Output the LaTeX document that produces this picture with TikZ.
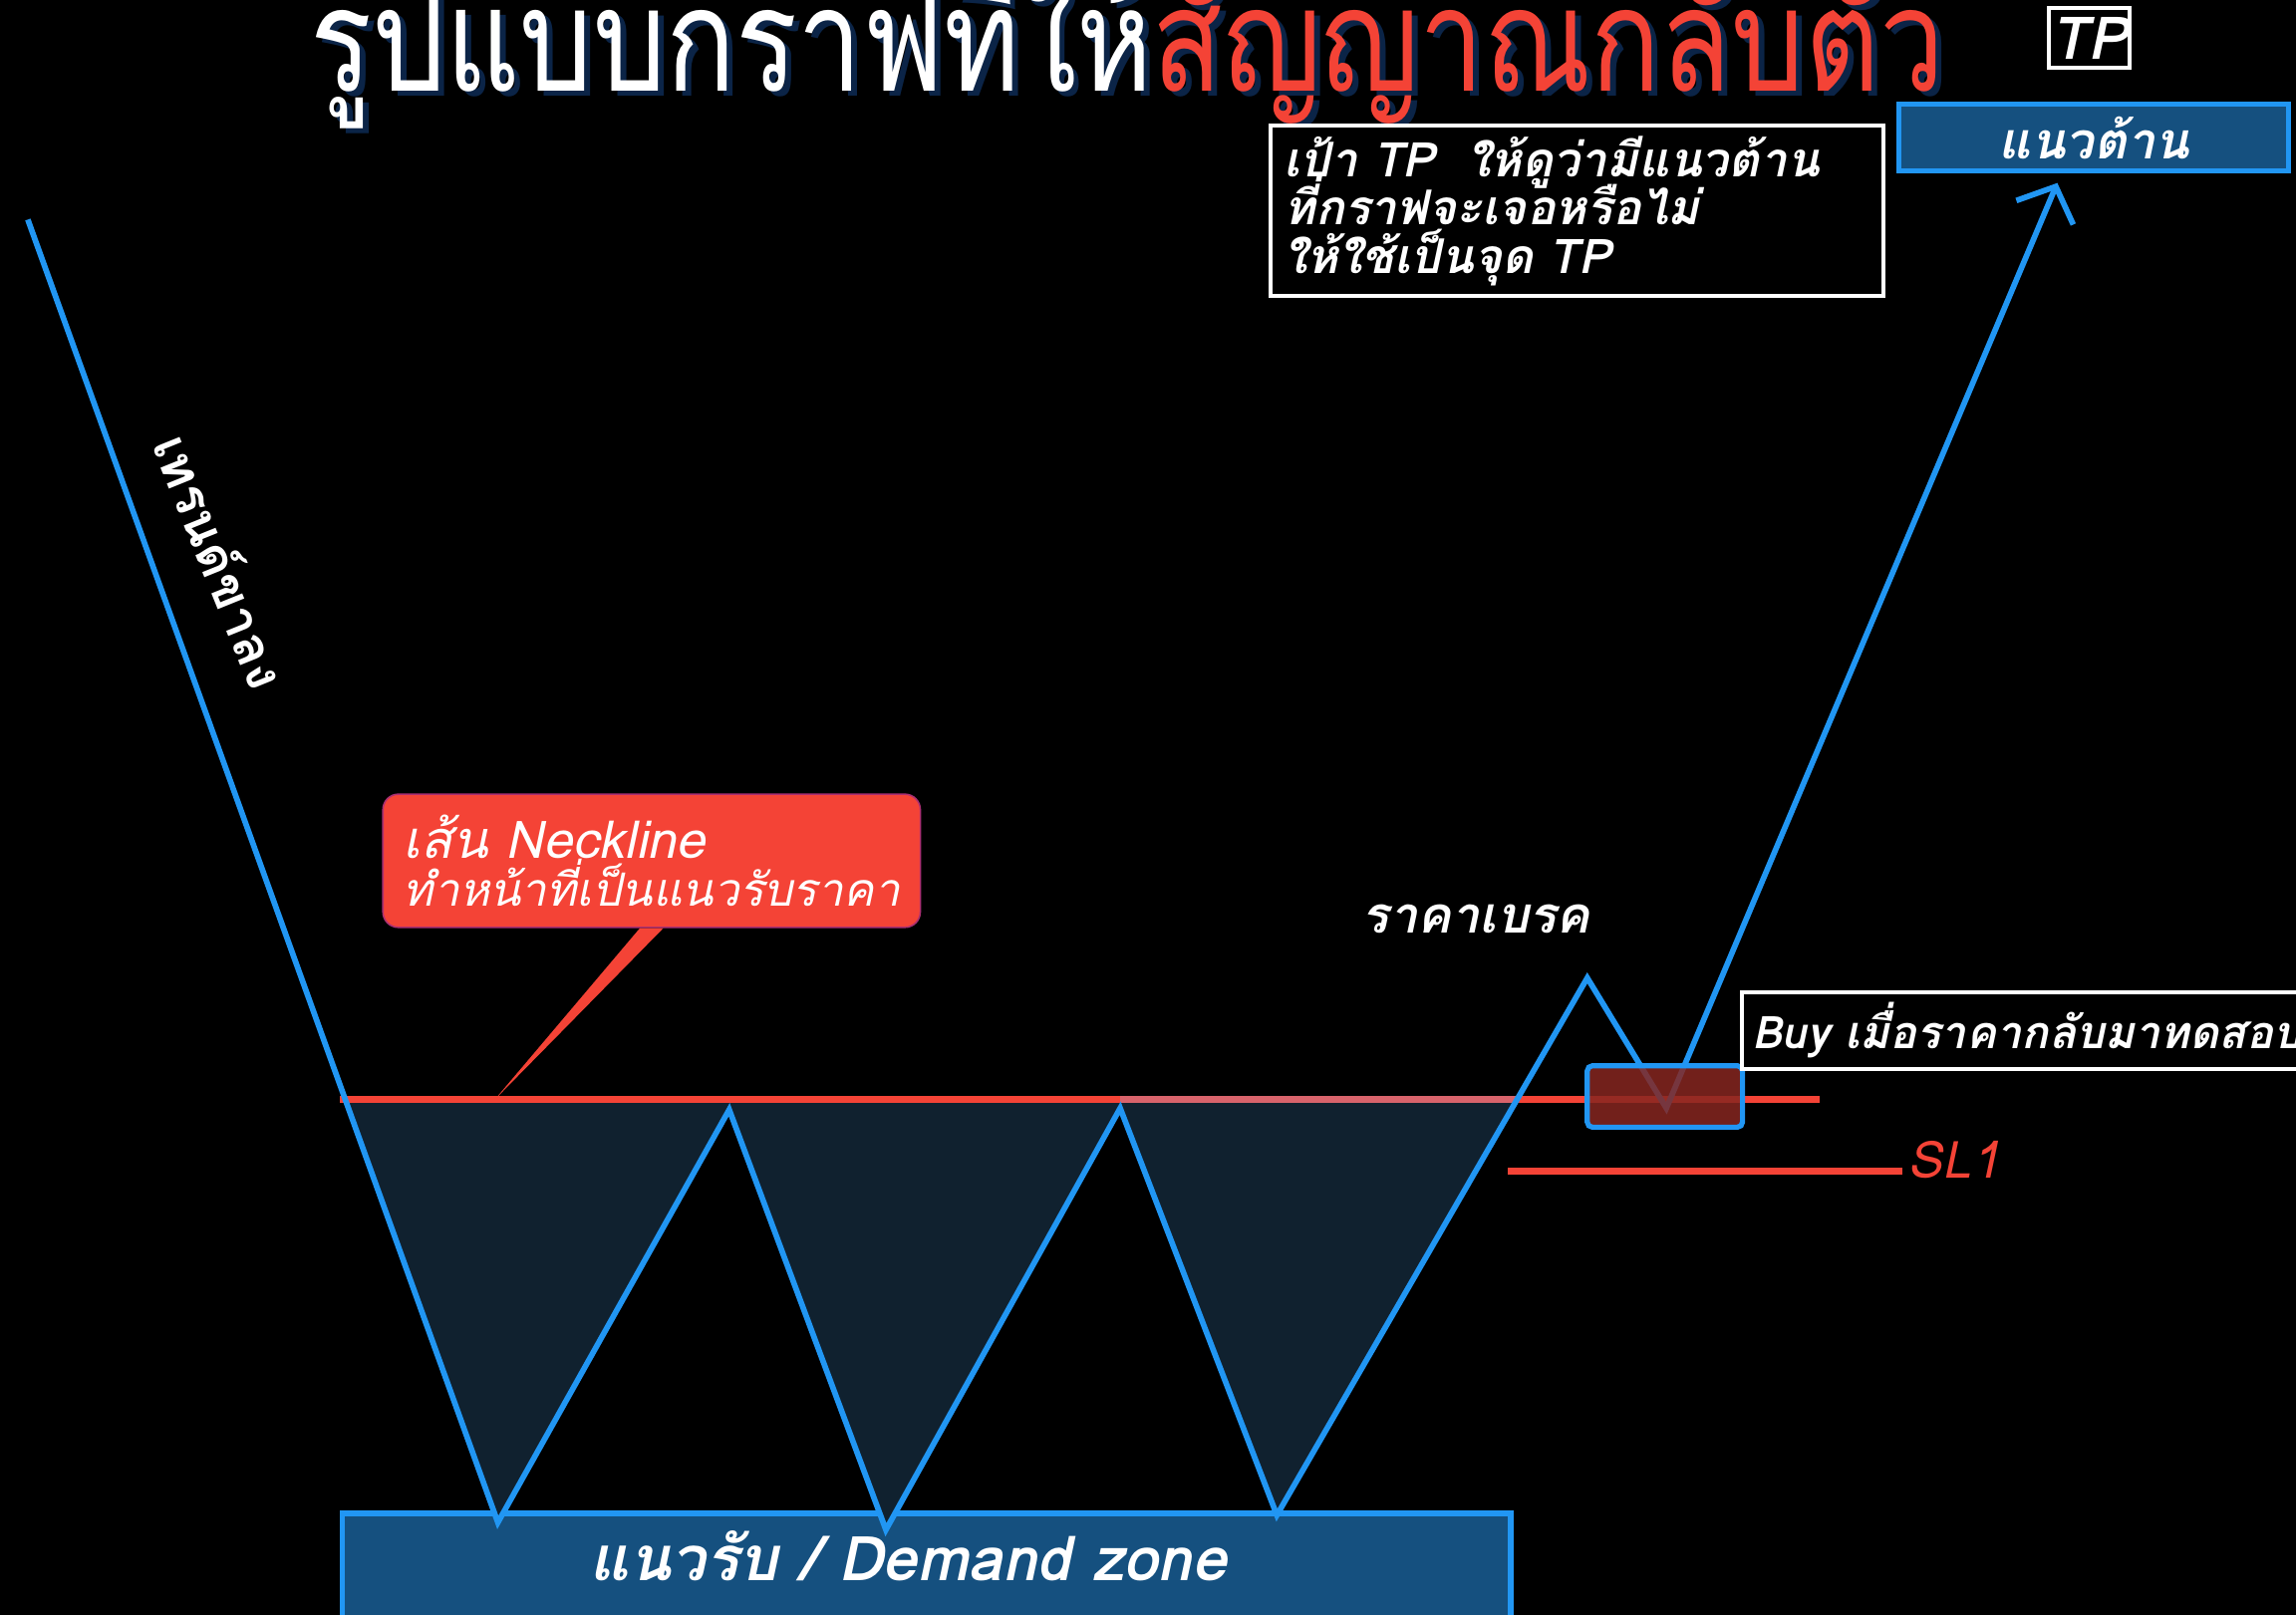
\documentclass[tikz,border=0pt]{standalone}
\usepackage{fontspec}
\setmainfont{Loma}[Script=Thai]
\newfontfamily\titlefont{Loma}[Script=Thai, FakeStretch=0.8]
\usetikzlibrary{positioning, arrows.meta}
\AtBeginDocument{\setlength{\lineskiplimit}{-20pt}}

\definecolor{trendblue}{HTML}{2196F3}
\definecolor{necklinered}{HTML}{F44336}
\definecolor{necklinepink}{HTML}{D8636B}
\definecolor{zoneblue}{HTML}{15507F}
\definecolor{shadenavy}{HTML}{10212F}
\definecolor{retestred}{HTML}{862620}
\definecolor{titleshade}{HTML}{0B2447}

\begin{document}
\begin{tikzpicture}[
    x=0.1mm, y=-0.1mm,
    price/.style={draw=trendblue, line width=1.1pt},
    shade/.style={fill=shadenavy},
    level/.style={draw=necklinered, line width=1.2pt},
    zonebox/.style={rectangle, draw=trendblue, fill=zoneblue, line width=1pt},
    notebox/.style={rectangle, draw=white, fill=black, line width=0.8pt},
    notetext/.style={text=white, font=\bfseries\itshape}
]
    \useasboundingbox (0,0) rectangle (1568,1103);
    \clip (0,0) rectangle (1568,1103);
    \fill[black] (0,0) rectangle (1568,1103);

    % Title
    \node[anchor=base, text=titleshade, font=\titlefont\fontsize{28}{34}\selectfont] (titleshadow) at (774,66) {รูปแบบกราฟที่ให้สัญญาณกลับตัว};
    \node[anchor=base, font=\titlefont\fontsize{28}{34}\selectfont] (title) at (770,62) {\textcolor{white}{รูปแบบกราฟที่ให้}\textcolor{necklinered}{สัญญาณกลับตัว}};

    % Price points
    \coordinate (p0) at (19,150);
    \coordinate (p1) at (340,1040);
    \coordinate (p2) at (498,758);
    \coordinate (p3) at (605,1045);
    \coordinate (p4) at (765,757);
    \coordinate (p5) at (872,1035);
    \coordinate (p6) at (1084,668);
    \coordinate (p7) at (1138,757);
    \coordinate (p8) at (1405,125);
    \coordinate (nlA) at (236,752);
    \coordinate (nlB) at (1036,752);

    % Demand zone
    \node[zonebox, minimum width=79.8mm, minimum height=8.2mm, anchor=north west] (demand) at (232,1032) {};
    \node[notetext, font=\bfseries\itshape\fontsize{12}{14}\selectfont] (demandlabel) at (620,1063) {แนวรับ / Demand zone};

    % Shaded bottoms
    \fill[shade] (nlA) -- (p1) -- (p2) -- (p2 |- nlA) -- cycle;
    \fill[shade] (p2) -- (p3) -- (p4) -- (p4 |- nlA) -- (p2 |- nlA) -- cycle;
    \fill[shade] (p4) -- (p5) -- (nlB) -- (p4 |- nlA) -- cycle;

    % Neckline and stop loss
    \coordinate (nlL) at (232,751);
    \coordinate (nlR) at (1243,751);
    \draw[level] (nlL) -- (nlR);
    \draw[level, draw=necklinepink] (p4 |- nlL) -- (nlB |- nlL);
    \coordinate (slL) at (1030,800);
    \node[text=necklinered, font=\itshape\fontsize{10}{12}\selectfont, anchor=west, inner sep=1pt] (sl) at (1299,792) {SL1};
    \draw[level] (slL) -- (sl.west |- slL);

    % Price path
    \draw[price, -{Straight Barb[length=5.5pt, width=12pt]}]
        (p0) -- (p1) -- (p2) -- (p3) -- (p4) -- (p5) -- (p6) -- (p7) -- (p8);

    % Retest zone
    \node[rectangle, rounded corners=1pt, fill=retestred, fill opacity=0.85, draw=trendblue, line width=1pt,
        minimum width=10.6mm, minimum height=4.2mm] (retest) at (1137,749) {};

    % Notes
    \node[rectangle, rounded corners=3pt, fill=necklinered, draw=necklinered!70!blue, line width=0.3pt,
        minimum width=36.4mm, minimum height=8.9mm, align=left, text=white, inner sep=4pt,
        font=\itshape\fontsize{8.9}{9.4}\selectfont] (neckcallout) at (445,588)
        {{\fontsize{10.1}{9.4}\selectfont เส้น Neckline}\\ทำหน้าที่เป็นแนวรับราคา};
    \coordinate (necktip) at (338,751);
    \fill[necklinered] ([xshift=-0.8mm]neckcallout.south) -- ([xshift=0.8mm]neckcallout.south) -- (necktip) -- cycle;

    \node[notetext, rotate=-68, font=\bfseries\fontsize{10}{12}\selectfont] (trend) at (152,383) {เทรนด์ขาลง};
    \node[notetext, font=\bfseries\itshape\fontsize{9.8}{12}\selectfont] (breakout) at (1008,628) {ราคาเบรค};
    \node[notebox, notetext, anchor=west, minimum height=4mm, inner sep=2pt,
        font=\bfseries\itshape\fontsize{8.75}{10}\selectfont] (buy) at (1188,704) {Buy เมื่อราคากลับมาทดสอบ};

    \node[notebox, minimum width=41.9mm, minimum height=11.6mm] (tpnote) at (1077,144) {};
    \node[notetext, anchor=west, align=left, inner sep=0pt,
        font=\bfseries\itshape\fontsize{9.3}{9.4}\selectfont] (tpnotetext) at ([xshift=1mm]tpnote.west)
        {เป้า TP\ \ ให้ดูว่ามีแนวต้าน\\ที่กราฟจะเจอหรือไม่\\ให้ใช้เป็นจุด TP};
    \node[zonebox, minimum width=26.6mm, minimum height=4.6mm, inner sep=0pt, notetext,
        font=\bfseries\itshape\fontsize{9.8}{12}\selectfont] (resist) at (1430,94) {แนวต้าน};
    \node[notebox, notetext, minimum width=4.9mm, minimum height=4.1mm, inner sep=0.5pt,
        font=\bfseries\itshape\fontsize{11.5}{12}\selectfont] (tp) at (1427,26) {TP};
\end{tikzpicture}
\end{document}
